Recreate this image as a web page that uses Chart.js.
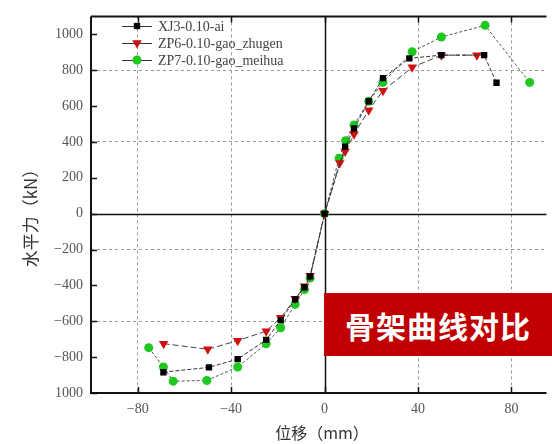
<!DOCTYPE html>
<html>
<head>
<meta charset="utf-8">
<script src="https://cdn.jsdelivr.net/npm/chart.js@4"></script>
<style>
  html, body { margin: 0; padding: 0; background: #fff; overflow: hidden; }
  #wrap { position: relative; width: 552px; height: 444px; }
  #badge {
    position: absolute; left: 324px; top: 293px; width: 228px; height: 63px;
    background: #c00000; color: #fff;
    font: bold 30px "Noto Sans CJK SC", sans-serif;
    display: flex; align-items: center; justify-content: center; letter-spacing: 1px;
  }
</style>
</head>
<body>
<div id="wrap">
  <canvas id="skeleton" width="552" height="444"></canvas>
  <div id="badge">骨架曲线对比</div>
</div>
<script>
// ----- DATA -----
const seriesNames = ['XJ3-0.10-ai', 'ZP6-0.10-gao_zhugen', 'ZP7-0.10-gao_meihua'];

const xj3X = [-69, -49.5, -37.2, -25, -18.8, -12.6, -8.6, -6.2, 0, 8.8, 12.6, 18.9, 25, 36.3, 50, 68.3, 73.6];
const xj3Y = [-884, -857, -811, -704, -594, -478, -410, -350, 0, 374, 475, 627, 756, 866, 884, 884, 730];

const zp6X = [-68.9, -50, -37.2, -25, -18.8, -12.6, -8.6, -6.2, 0, 6.5, 8.8, 12.6, 18.9, 25, 37.5, 50, 65.2];
const zp6Y = [-725, -756, -708, -655, -580, -475, -405, -346, 0, 282, 346, 443, 577, 686, 816, 884, 884];

const zp7X = [-75.3, -69, -64.8, -50.4, -37.2, -25, -18.8, -12.6, -8.6, -6.2, 0, 6.2, 9, 12.6, 18.9, 25, 37.5, 50, 68.7, 87.8];
const zp7Y = [-747, -855, -934, -930, -855, -726, -636, -506, -423, -359, 0, 309, 407, 495, 627, 732, 903, 985, 1050, 732];

const xTicks = [-80, -40, 0, 40, 80];
const yTicks = [-1000, -800, -600, -400, -200, 0, 200, 400, 600, 800, 1000];
const yGridValues = [800, 400, -200, -600];   // dashed lines as they appear
const xGridValues = [-80, -40, 40, 80];

const toPts = (xs, ys) => xs.map((x, i) => ({ x: x, y: ys[i] }));

const serif = '"Liberation Serif", "DejaVu Serif", serif';
const cjk = '"Noto Sans CJK SC", sans-serif';

// axis frame, inward ticks, zero lines, legend and axis titles
const framePlugin = {
    id: 'frame',
    beforeDatasetsDraw(chart) {
        const { ctx, chartArea: a, scales: { x, y } } = chart;
        ctx.save();
        ctx.strokeStyle = '#111';
        ctx.lineWidth = 1.5;
        const x0 = Math.round(x.getPixelForValue(0)) + 0.5;
        const y0 = Math.round(y.getPixelForValue(0)) + 0.5;
        ctx.beginPath();
        ctx.moveTo(x0, a.top); ctx.lineTo(x0, a.bottom);
        ctx.moveTo(a.left, y0); ctx.lineTo(a.right, y0);
        ctx.stroke();
        ctx.restore();
    },
    afterDraw(chart) {
        const { ctx, chartArea: a, scales: { x, y } } = chart;
        ctx.save();
        ctx.strokeStyle = '#111';
        ctx.lineWidth = 2;
        ctx.beginPath();
        ctx.moveTo(a.left, a.top); ctx.lineTo(a.right, a.top);
        ctx.moveTo(a.left, a.top); ctx.lineTo(a.left, a.bottom);
        ctx.lineTo(a.right, a.bottom);
        ctx.stroke();
        ctx.lineWidth = 1.5;
        ctx.beginPath();
        xTicks.forEach(v => {
            const px = Math.round(x.getPixelForValue(v)) + 0.5;
            ctx.moveTo(px, a.bottom); ctx.lineTo(px, a.bottom - 6);
            ctx.moveTo(px, a.top); ctx.lineTo(px, a.top + 6);
        });
        yTicks.forEach(v => {
            const py = Math.round(y.getPixelForValue(v)) + 0.5;
            ctx.moveTo(a.left, py); ctx.lineTo(a.left + 6, py);
        });
        ctx.stroke();

        // legend
        const rows = [26, 43, 60];
        chart.data.datasets.forEach((ds, i) => {
            const ry = rows[i];
            ctx.strokeStyle = '#333';
            ctx.lineWidth = 1;
            ctx.setLineDash([]);
            ctx.beginPath();
            ctx.moveTo(122, ry + 0.5); ctx.lineTo(152, ry + 0.5);
            ctx.stroke();
            ctx.fillStyle = ds.pointBackgroundColor;
            ctx.strokeStyle = ds.pointBackgroundColor;
            Chart.helpers.drawPoint(ctx, {
                pointStyle: ds.pointStyle,
                rotation: ds.rotation || 0,
                radius: ds.pointRadius,
                borderWidth: 0
            }, 137, ry);
            ctx.fillStyle = '#444';
            ctx.font = '14px ' + serif;
            ctx.textAlign = 'left';
            ctx.textBaseline = 'middle';
            ctx.fillText(ds.label, 158, ry + 1);
        });

        ctx.fillStyle = '#333';
        ctx.font = '16px ' + cjk;
        ctx.textAlign = 'center';
        ctx.textBaseline = 'middle';
        ctx.fillText('位移（mm）', 322, 433);
        ctx.font = '17px ' + cjk;
        ctx.translate(31, 214);
        ctx.rotate(-Math.PI / 2);
        ctx.fillText('水平力（kN）', 0, 0);
        ctx.restore();
    }
};

new Chart(document.getElementById('skeleton').getContext('2d'), {
    type: 'scatter',
    data: {
        datasets: [
            {
                label: seriesNames[0],
                data: toPts(xj3X, xj3Y),
                showLine: true,
                borderColor: '#333',
                borderWidth: 1,
                borderDash: [4, 2],
                pointStyle: 'rect',
                pointRadius: 4.5,
                pointBackgroundColor: '#000',
                pointBorderColor: '#000',
                pointBorderWidth: 0
            },
            {
                label: seriesNames[1],
                data: toPts(zp6X, zp6Y),
                showLine: true,
                borderColor: '#444',
                borderWidth: 1,
                borderDash: [6, 3],
                pointStyle: 'triangle',
                rotation: 180,
                pointRadius: 5.5,
                pointBackgroundColor: '#d01010',
                pointBorderColor: '#d01010',
                pointBorderWidth: 0
            },
            {
                label: seriesNames[2],
                data: toPts(zp7X, zp7Y),
                showLine: true,
                borderColor: '#555',
                borderWidth: 1,
                borderDash: [3, 2],
                pointStyle: 'circle',
                pointRadius: 4.5,
                pointBackgroundColor: '#1ec81e',
                pointBorderColor: '#1ec81e',
                pointBorderWidth: 0
            }
        ]
    },
    options: {
        responsive: false,
        animation: false,
        layout: { padding: { top: 11, right: 0, left: 0, bottom: 0 } },
        plugins: {
            tooltip: { enabled: false },
            legend: { display: false }
        },
        scales: {
            x: {
                type: 'linear',
                min: -100,
                max: 95,
                afterFit(scale) { scale.height = 51; },
                afterBuildTicks(scale) { scale.ticks = xTicks.map(v => ({ value: v })); },
                grid: {
                    drawTicks: false,
                    color: c => (c.tick && xGridValues.includes(c.tick.value)) ? '#999' : 'rgba(0,0,0,0)',
                    lineWidth: 1
                },
                border: { display: false, dash: [3, 3] },
                ticks: {
                    color: '#555',
                    padding: 8,
                    font: { family: serif, size: 14 },
                    callback: v => String(v).replace('-', '\u2212')
                }
            },
            y: {
                type: 'linear',
                min: -1000,
                max: 1100,
                afterFit(scale) { scale.width = 91; },
                afterBuildTicks(scale) { scale.ticks = yTicks.map(v => ({ value: v })); },
                grid: {
                    drawTicks: false,
                    color: c => (c.tick && yGridValues.includes(c.tick.value)) ? '#999' : 'rgba(0,0,0,0)',
                    lineWidth: 1
                },
                border: { display: false, dash: [3, 3] },
                ticks: {
                    color: '#555',
                    padding: 8,
                    font: { family: serif, size: 14 },
                    callback: v => v === -1000 ? '1000' : String(v).replace('-', '\u2212')
                }
            }
        }
    },
    plugins: [framePlugin]
});
</script>
</body>
</html>
